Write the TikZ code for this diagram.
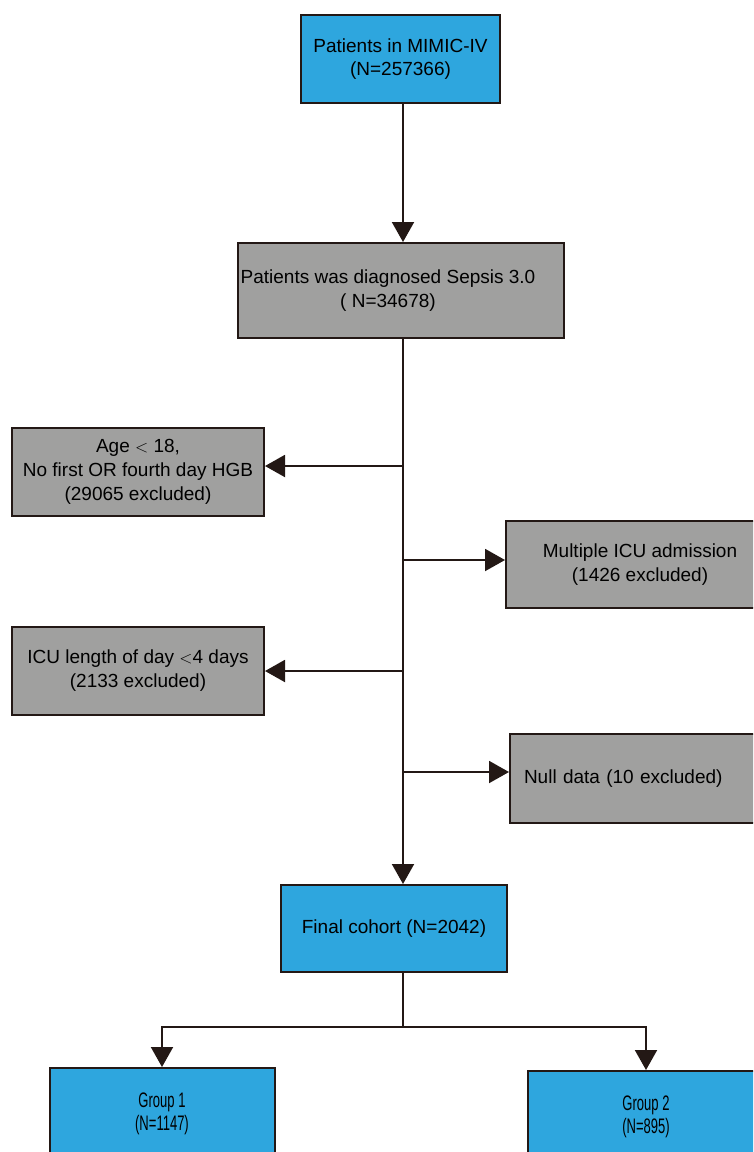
\documentclass[tikz,border=0pt]{standalone}
\usepackage{fontspec}
\setmainfont{Liberation Sans}
\usepackage{graphicx}
\usetikzlibrary{positioning}
\usetikzlibrary{arrows.meta}
\definecolor{boxblue}{RGB}{46,166,222}
\definecolor{boxgray}{RGB}{160,160,159}
\definecolor{linedark}{RGB}{35,24,21}
\tikzset{cohort/.style = {font=\fontsize{19}{23}\selectfont, draw=linedark, line width=2pt, fill=boxblue, align=center, inner sep=0pt}}
\tikzset{excl/.style = {font=\fontsize{19}{24}\selectfont, draw=linedark, line width=2pt, fill=boxgray, align=center, inner sep=0pt}}
\tikzset{group/.style = {cohort, font=\fontsize{21}{23}\selectfont}}
\tikzset{flow/.style = {draw=linedark, line width=2pt, -{Triangle[length=20pt,width=22pt]}}}
\tikzset{link/.style = {draw=linedark, line width=2pt}}
\newcommand{\narrowtxt}[1]{\scalebox{0.62}[1]{#1}}

\begin{document}
\begin{tikzpicture}[x=1pt,y=-1pt]
\clip (0,0) rectangle (753,1152);
\node[cohort, minimum width=199pt, minimum height=88pt](mimic) at (400.5,59) {Patients in MIMIC-IV\\(N=257366)};
\node[excl, minimum width=326pt, minimum height=95pt](sepsis) at (401,290.5) {Patients was diagnosed Sepsis 3.0\rule{26pt}{0pt}\\( N=34678)\rule{26pt}{0pt}};
\node[excl, minimum width=252pt, minimum height=88pt](age) at (138,472) {Age $<$ 18,\\No first OR fourth day HGB\\(29065 excluded)};
\node[excl, minimum width=268pt, minimum height=87pt](multi) at (640,564.5) {Multiple ICU admission\\(1426 excluded)};
\node[excl, minimum width=252pt, minimum height=88pt](iculen) at (138,671) {ICU length of day $<$4 days\\(2133 excluded)};
\node[excl, align=left, text width=218pt, inner xsep=14pt, minimum height=89pt](null) at (633,778.5) {Null data (10 excluded)};
\node[cohort, minimum width=226pt, minimum height=87pt](final) at (394,928.5) {Final cohort (N=2042)};
\node[group, minimum width=225pt, minimum height=92pt](g1) at (162,1114) {\narrowtxt{Group 1}\\\narrowtxt{(N=1147)}};
\node[group, minimum width=236pt, minimum height=92pt](g2) at (646,1117) {\narrowtxt{Group 2}\\\narrowtxt{(N=895)}};
\coordinate (b1) at (403,466);
\coordinate (b2) at (403,560);
\coordinate (b3) at (403,671);
\coordinate (b4) at (403,772);
\coordinate (split) at (403,1027);
\draw[flow] (mimic.south -| b1) -- (sepsis.north -| b1);
\draw[flow] (sepsis.south -| b1) -- (final.north -| b1);
\draw[flow] (b1) -- (b1 -| age.east);
\draw[flow] (b2) -- (b2 -| multi.west);
\draw[flow] (b3) -- (b3 -| iculen.east);
\draw[flow] (b4) -- (b4 -| null.west);
\draw[link] (final.south -| split) -- (split);
\draw[flow] (split) -| (g1.north);
\draw[flow] (split) -| (g2.north);
\end{tikzpicture}
\end{document}
